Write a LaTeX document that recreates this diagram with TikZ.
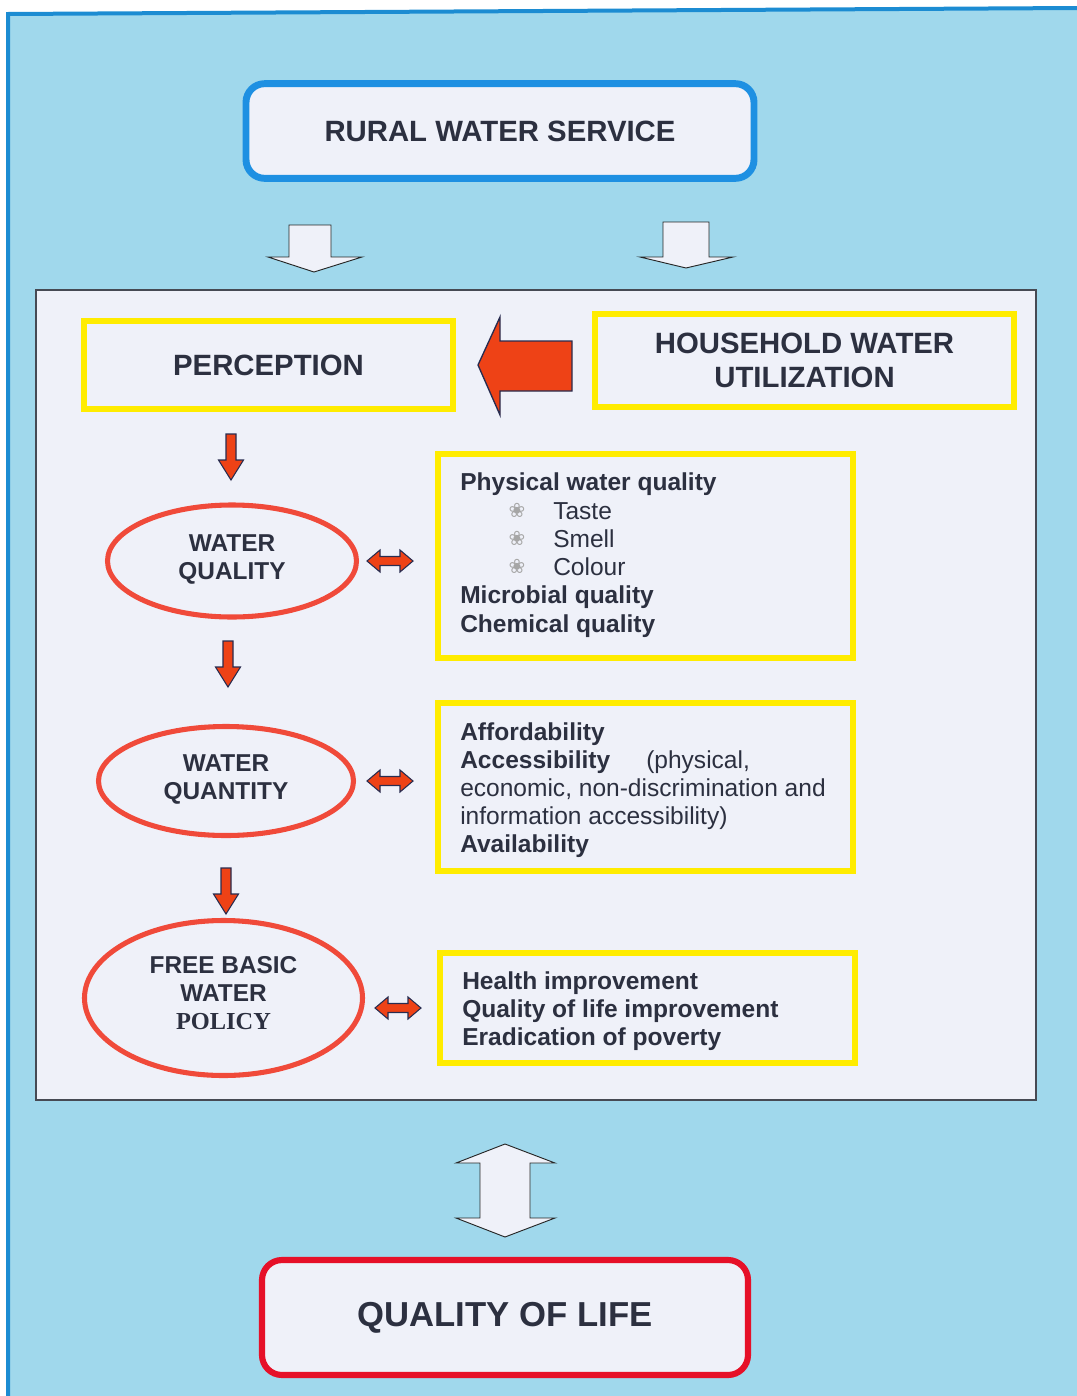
\documentclass[tikz,border=0pt]{standalone}
\usepackage{fontspec}
\setmainfont{Liberation Sans}
\newfontfamily\policyfont{Liberation Serif}
\newfontfamily\symfont{DejaVu Sans}
\usetikzlibrary{shapes.geometric}
\definecolor{sky}{RGB}{160,216,236}
\definecolor{frameblue}{RGB}{28,140,210}
\definecolor{servblue}{RGB}{30,144,226}
\definecolor{paper}{RGB}{239,241,249}
\definecolor{ink}{RGB}{44,48,64}
\definecolor{hiyellow}{RGB}{255,236,0}
\definecolor{redorange}{RGB}{238,66,22}
\definecolor{ellred}{RGB}{240,74,58}
\definecolor{lifered}{RGB}{230,16,40}
\definecolor{navy}{RGB}{40,44,80}
\definecolor{panelline}{RGB}{70,74,84}

\tikzset{
  headbox/.style={draw=hiyellow, line width=4.5pt, fill=paper, inner sep=0pt,
    text=ink, font=\fontsize{22}{25.5}\selectfont\bfseries, align=center},
  listbox/.style={draw=hiyellow, line width=4.5pt, fill=paper, inner sep=0pt},
  oval/.style={ellipse, draw=ellred, line width=3.8pt, fill=paper, inner sep=0pt},
  ovaltext/.style={text=ink, font=\fontsize{18.3}{21}\selectfont\bfseries, align=center, inner sep=0pt},
  item/.style={anchor=base west, inner sep=0pt, text=ink, font=\fontsize{18.4}{21}\selectfont},
  bolditem/.style={item, font=\fontsize{18.4}{21}\selectfont\bfseries},
  bullet/.style={anchor=base, inner sep=0pt, text=gray!70, font=\symfont\fontsize{15}{17}\selectfont},
  hollow/.style={draw=black!85, line width=0.7pt, fill=paper, line join=miter},
  redarrow/.style={draw=navy, line width=0.8pt, fill=redorange, line join=miter},
  pics/reddown/.style={code={
    \draw[redarrow] (-5,0) -- (5,0) -- (5,26) -- (12.5,26) -- (0,46)
      -- (-12.5,26) -- (-5,26) -- cycle;}},
  pics/redboth/.style={code={
    \draw[redarrow] (-23,0) -- (-10,-11) -- (-10,-4.5) -- (10,-4.5) -- (10,-11)
      -- (23,0) -- (10,11) -- (10,4.5) -- (-10,4.5) -- (-10,11) -- cycle;}}
}

\begin{document}
\begin{tikzpicture}[x=0.75pt, y=-0.75pt]
  \useasboundingbox (0,0) rectangle (1077,1396);
  \fill[white] (0,0) rectangle (1077,1396);

  % outer sky-blue sheet with its blue frame on top and left
  \fill[sky] (8,14) -- (1077,8) -- (1077,1396) -- (8,1396) -- cycle;
  \draw[frameblue, line width=3pt] (8,1396) -- (8,14) -- (1077,8);

  % top service box
  \node[draw=servblue, line width=5.2pt, fill=paper, rounded corners=14pt,
        minimum width=381pt, minimum height=71pt, inner sep=0pt,
        text=ink, font=\fontsize{22}{26}\selectfont\bfseries]
        (rural) at (500,131) {RURAL WATER SERVICE};

  % hollow arrows from the service box down to the panel
  \draw[hollow] (289,225) -- (331,225) -- (331,257) -- (362,257) -- (314,272)
        -- (268,257) -- (289,257) -- cycle;
  \draw[hollow] (663,222) -- (709,222) -- (709,257) -- (733,257) -- (686,268)
        -- (640,257) -- (663,257) -- cycle;

  % inner white panel
  \node[draw=panelline, line width=1.2pt, fill=paper, minimum width=750pt,
        minimum height=607.5pt, inner sep=0pt] (panel) at (536,695) {};

  % headings
  \node[headbox, minimum width=276.75pt, minimum height=66pt]
        (perception) at (268.5,365) {PERCEPTION};
  \node[headbox, minimum width=314.25pt, minimum height=69.75pt]
        (household) at (804.5,360.5) {HOUSEHOLD WATER\\UTILIZATION};

  % big red arrow from household utilisation to perception
  \draw[redarrow, line width=1pt] (478,365) -- (500,317) -- (500,341) -- (572,341)
        -- (572,391) -- (500,391) -- (500,415) -- cycle;

  % left column of ellipses
  \node[oval, minimum width=186.75pt, minimum height=84pt] (quality) at (232,561) {};
  \node[ovaltext] (qualitytext) at (232,559) {WATER\\QUALITY};
  \node[oval, minimum width=191.25pt, minimum height=81.75pt] (quantity) at (226,781) {};
  \node[ovaltext] (quantitytext) at (226,779) {WATER\\QUANTITY};
  \node[oval, minimum width=208.5pt, minimum height=116.25pt] (policy) at (223.5,998) {};
  \node[ovaltext] (policytext) at (223.5,993)
        {FREE BASIC\\WATER\\{\policyfont\bfseries POLICY}};

  % small red arrows down the column
  \pic at (231,434) {reddown};
  \pic at (228,641) {reddown};
  \pic at (226,868) {reddown};

  % two-way arrows to the detail boxes
  \pic at (390,561) {redboth};
  \pic at (390,781) {redboth};
  \pic at (398,1008) {redboth};

  % detail boxes
  \node[listbox, minimum width=311.25pt, minimum height=153pt] (physbox) at (645.5,556) {};
  \node[bolditem] (p1) at (460,490) {Physical water quality};
  \node[bullet] (b1) at (517,517) {❀};
  \node[item] (p2) at (553,519) {Taste};
  \node[bullet] (b2) at (517,545) {❀};
  \node[item] (p3) at (553,547) {Smell};
  \node[bullet] (b3) at (517,573) {❀};
  \node[item] (p4) at (553,575) {Colour};
  \node[bolditem] (p5) at (460,603) {Microbial quality};
  \node[bolditem] (p6) at (460,632) {Chemical quality};

  \node[listbox, minimum width=311.25pt, minimum height=126pt] (accbox) at (645.5,787) {};
  \node[bolditem] (a1) at (460,740) {Affordability};
  \node[bolditem] (a2) at (460,768) {Accessibility};
  \node[item] (a2b) at (646,768) {(physical,};
  \node[item] (a3) at (460,796) {economic, non-discrimination and};
  \node[item] (a4) at (460,824) {information accessibility)};
  \node[bolditem] (a5) at (460,852) {Availability};

  \node[listbox, minimum width=311.25pt, minimum height=82.5pt] (gainbox) at (647.5,1008) {};
  \node[bolditem] (g1) at (462,989) {Health improvement};
  \node[bolditem] (g2) at (462,1017) {Quality of life improvement};
  \node[bolditem] (g3) at (462,1045) {Eradication of poverty};

  % hollow two-way arrow between the panel and quality of life
  \draw[hollow] (505,1144) -- (555,1163) -- (530,1163) -- (530,1218) -- (555,1218)
        -- (505,1237) -- (456,1218) -- (480,1218) -- (480,1163) -- (456,1163) -- cycle;

  % bottom box
  \node[draw=lifered, line width=4.6pt, fill=paper, rounded corners=15pt,
        minimum width=364.5pt, minimum height=86.25pt, inner sep=0pt,
        text=ink, font=\fontsize{26}{30}\selectfont\bfseries]
        (life) at (505,1317.5) {QUALITY OF LIFE};
\end{tikzpicture}
\end{document}
